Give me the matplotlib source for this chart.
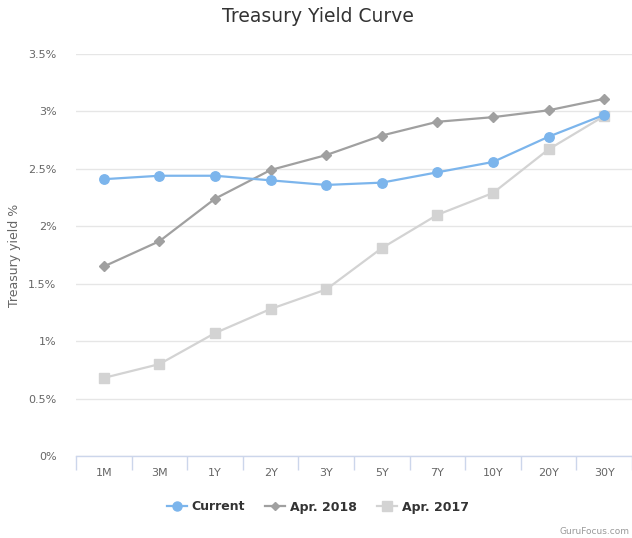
import matplotlib
matplotlib.use("Agg")
import matplotlib.pyplot as plt
from matplotlib.lines import Line2D

categories = ["1M", "3M", "1Y", "2Y", "3Y", "5Y", "7Y", "10Y", "20Y", "30Y"]
current = [2.41, 2.44, 2.44, 2.40, 2.36, 2.38, 2.47, 2.56, 2.78, 2.97]
apr_2018 = [1.65, 1.87, 2.24, 2.49, 2.62, 2.79, 2.91, 2.95, 3.01, 3.11]
apr_2017 = [0.68, 0.80, 1.07, 1.28, 1.45, 1.81, 2.10, 2.29, 2.67, 2.96]
y_ticks = [0, 0.5, 1, 1.5, 2, 2.5, 3, 3.5]
y_tick_labels = ["0%", "0.5%", "1%", "1.5%", "2%", "2.5%", "3%", "3.5%"]

plt.rcParams['font.family'] = ['DejaVu Sans']

W, H = 632, 538
fig = plt.figure(figsize=(W / 100, H / 100), dpi=100)
ax = fig.add_axes([76 / W, 1 - 456 / H, (632 - 76) / W, (456 - 54) / H])

x = list(range(len(categories)))
ax.plot(x, apr_2017, color="#d3d3d3", lw=1.6, marker="s", ms=6.5, mec="#d3d3d3", mfc="#d3d3d3", zorder=3)
ax.plot(x, apr_2018, color="#a0a0a0", lw=1.6, marker="D", ms=5, mec="#a0a0a0", mfc="#a0a0a0", zorder=4)
ax.plot(x, current, color="#7cb5ec", lw=1.6, marker="o", ms=6.8, mec="#7cb5ec", mfc="#7cb5ec", zorder=5)

ax.set_xlim(-0.5, len(categories) - 0.5)
ax.set_ylim(0, 3.5)
ax.set_yticks(y_ticks)
ax.set_yticklabels(y_tick_labels, color="#666666", fontsize=8)
ax.tick_params(axis="y", length=0, pad=14)
ax.grid(axis="y", color="#e6e6e6", lw=1)
ax.set_axisbelow(True)

# x ticks: labels at centers, tick marks at band edges
ax.set_xticks(x)
ax.set_xticklabels(categories, color="#666666", fontsize=8)
ax.tick_params(axis="x", length=0, pad=9)
ax.set_xticks([i - 0.5 for i in range(len(categories) + 1)], minor=True)
ax.tick_params(axis="x", which="minor", length=10, color="#ccd6eb", width=1)

for s in ["top", "right", "left"]:
    ax.spines[s].set_visible(False)
ax.spines["bottom"].set_color("#ccd6eb")
ax.spines["bottom"].set_linewidth(1)

ax.set_ylabel("Treasury yield %", color="#666666", fontsize=9)
ax.yaxis.set_label_coords(-0.099, 0.5)

fig.text(318 / W, 1 - 17 / H, "Treasury Yield Curve", ha="center", va="center",
         fontsize=13.5, color="#333333")

handles = [
    Line2D([], [], color="#7cb5ec", lw=1.6, marker="o", ms=6.5, mec="#7cb5ec"),
    Line2D([], [], color="#a0a0a0", lw=1.6, marker="D", ms=4.5, mec="#a0a0a0"),
    Line2D([], [], color="#d3d3d3", lw=1.6, marker="s", ms=6.5, mec="#d3d3d3"),
]
leg = fig.legend(handles, ["Current", "Apr. 2018", "Apr. 2017"], loc="center",
                 bbox_to_anchor=(318 / W, 1 - 507 / H), ncol=3, frameon=False,
                 handlelength=1.6, handletextpad=0.4, columnspacing=1.6,
                 prop={"weight": "bold", "size": 9})
for t in leg.get_texts():
    t.set_color("#333333")

fig.text(630 / W, 1 - 532 / H, "GuruFocus.com", ha="right", va="center",
         fontsize=6.5, color="#999999")

fig.savefig("out.png", dpi=100)
